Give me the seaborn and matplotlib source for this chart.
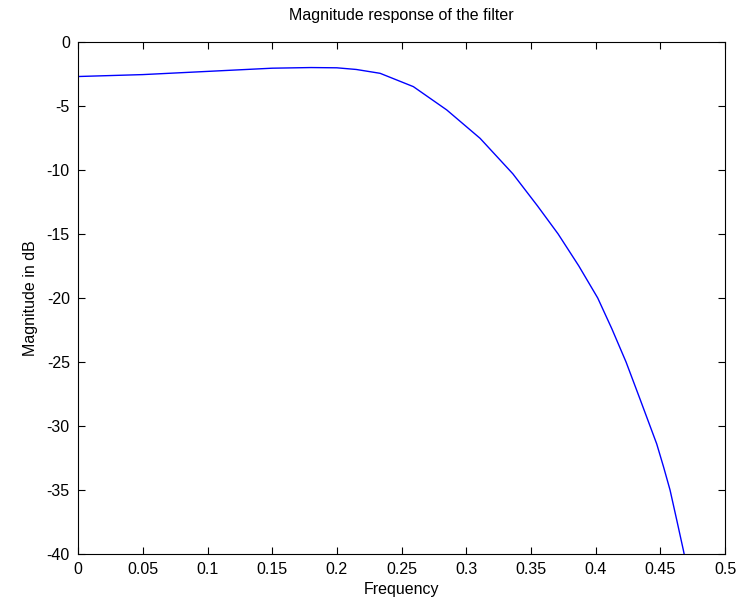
import matplotlib
matplotlib.use("Agg")
import matplotlib.pyplot as plt
import seaborn as sns
import pandas as pd

# magnitude response
freq = [0, 0.05, 0.1, 0.15, 0.18, 0.2, 0.215, 0.2334, 0.2591, 0.2849, 0.3107,
        0.336, 0.355, 0.371, 0.387, 0.4016, 0.4125, 0.4235, 0.4343, 0.4472,
        0.4525, 0.4575, 0.4628, 0.4678, 0.472]
mag_db = [-2.7, -2.55, -2.3, -2.05, -2.0, -2.02, -2.15, -2.45, -3.49, -5.31,
          -7.53, -10.3, -12.8, -15.0, -17.5, -20.0, -22.4, -25.0, -27.9, -31.4,
          -33.2, -35.0, -37.4, -39.7, -41.8]
xticks = [0, 0.05, 0.1, 0.15, 0.2, 0.25, 0.3, 0.35, 0.4, 0.45, 0.5]
xticklabels = ["0", "0.05", "0.1", "0.15", "0.2", "0.25", "0.3", "0.35", "0.4", "0.45", "0.5"]
yticks = [0, -5, -10, -15, -20, -25, -30, -35, -40]

df = pd.DataFrame({"Frequency": freq, "Magnitude": mag_db})

sns.set_style("ticks")
plt.rcParams["font.family"] = ["Liberation Sans", "DejaVu Sans"]
plt.rcParams["text.color"] = "black"
plt.rcParams["axes.labelcolor"] = "black"

fig = plt.figure(figsize=(7.44, 6.08), dpi=100)
ax = fig.add_axes([0.105, 0.0888, 0.8695, 0.8422])
sns.lineplot(data=df, x="Frequency", y="Magnitude", color="#0000ff", linewidth=1.0,
             ax=ax, sort=False)

ax.set_xlim(0, 0.5)
ax.set_ylim(-40, 0)
ax.set_xticks(xticks)
ax.set_xticklabels(xticklabels)
ax.set_yticks(yticks)
ax.set_yticklabels([str(v) for v in yticks])
ax.tick_params(direction="in", length=5, width=0.8, top=True, right=True,
               labelsize=11.5, colors="black", pad=6)
for s in ax.spines.values():
    s.set_visible(True)
    s.set_color("black")
    s.set_linewidth(0.8)

ax.set_xlabel("Frequency", fontsize=11.5, labelpad=3)
ax.set_ylabel("Magnitude in dB", fontsize=11.5, labelpad=6)
ax.set_title("Magnitude response of the filter", fontsize=11.5, pad=16)

fig.savefig("out.png", dpi=100)
